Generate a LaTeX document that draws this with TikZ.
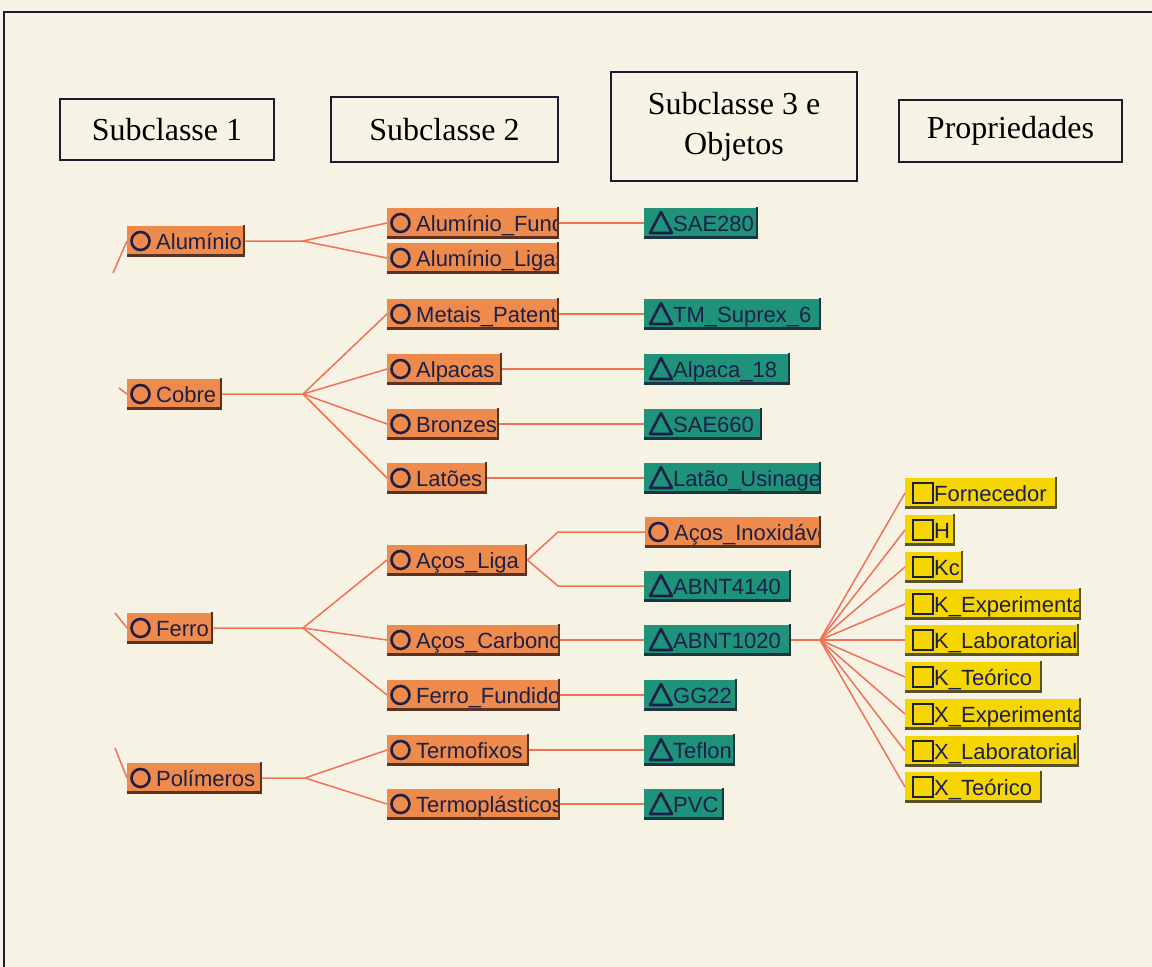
\documentclass[tikz,border=0pt]{standalone}
\usepackage{fontspec}
\setmainfont{Liberation Serif}
\newfontfamily\nodefont{Liberation Sans}
\definecolor{bg}{HTML}{F7F3E4}
\definecolor{orng}{HTML}{EE8A4C}
\definecolor{orngdark}{HTML}{5A3222}
\definecolor{tl}{HTML}{1F937A}
\definecolor{tldark}{HTML}{1A3440}
\definecolor{yel}{HTML}{F5D600}
\definecolor{yeldark}{HTML}{5A5224}
\definecolor{conn}{HTML}{F07058}
\definecolor{ink}{HTML}{1C2048}
\definecolor{frame}{HTML}{1A1A30}
\tikzset{
  box/.style={rectangle, inner sep=0pt, minimum height=31pt},
  lbl/.style={inner sep=0pt, font=\nodefont\fontsize{22}{24}\selectfont, text=ink},
  sym/.style={draw=ink, line width=2.6pt},
  link/.style={draw=conn, line width=1.5pt},
  head/.style={draw=frame, line width=2pt, font=\fontsize{32}{40}\selectfont, align=center, inner sep=0pt},
}
\newcommand\symcirc[1]{\draw[sym] ([xshift=13.5pt]#1.west) circle (9pt);}
\newcommand\symtri[1]{\draw[sym, line join=round] ([xshift=6pt,yshift=-10pt]#1.west) -- ([xshift=28pt,yshift=-10pt]#1.west) -- ([xshift=17pt,yshift=11pt]#1.west) -- cycle;}
\newcommand\symsq[1]{\draw[sym] ([xshift=8pt,yshift=-10pt]#1.west) rectangle ([xshift=28pt,yshift=10pt]#1.west);}
\newcommand\obj[7]{%
  \node[box, fill=#5, minimum width=#4pt, anchor=west] (#1) at (#2,#3) {};
  \draw[#5dark, line width=2.5pt] ([xshift=-1.25pt]#1.north east) -- ([xshift=-1.25pt,yshift=1.25pt]#1.south east) -- ([yshift=1.25pt]#1.south west);
  \csname sym#6\endcsname{#1}%
  \begin{scope}
    \clip (#1.south west) rectangle ([xshift=-2.5pt]#1.north east);
    \node[lbl, anchor=base west] (#1t) at ([xshift=29pt,yshift=-8pt]#1.west) {#7};
  \end{scope}
}
\begin{document}
\begin{tikzpicture}[x=1pt,y=-1pt]
\useasboundingbox (0,0) rectangle (1152,967);
\fill[bg] (0,0) rectangle (1152,967);
\draw[frame, line width=2pt] (4,967) -- (4,12) -- (1152,12);
% headers
\node[head, minimum width=214pt, minimum height=61pt] (h1) at (167,129.5) {Subclasse 1};
\node[head, minimum width=227pt, minimum height=65pt] (h2) at (444.5,129.5) {Subclasse 2};
\node[head, minimum width=246pt, minimum height=109pt] (h3) at (734,126.5) {Subclasse 3 e\\Objetos};
\node[head, minimum width=223pt, minimum height=62pt] (h4) at (1010.5,131) {Propriedades};
% column 1
\obj{Al}{127}{241}{118}{orng}{circ}{Alumínio}
\obj{Co}{127}{394}{95}{orng}{circ}{Cobre}
\obj{Fe}{127}{628}{86}{orng}{circ}{Ferro}
\obj{Po}{127}{778}{135}{orng}{circ}{Polímeros}
% column 2
\obj{AlF}{387}{223}{172}{orng}{circ}{Alumínio\_Fundido}
\obj{AlL}{387}{258}{172}{orng}{circ}{Alumínio\_Ligas}
\obj{MeP}{387}{314}{172}{orng}{circ}{Metais\_Patentes}
\obj{Alp}{387}{369}{115}{orng}{circ}{Alpacas}
\obj{Bro}{387}{424}{112}{orng}{circ}{Bronzes}
\obj{Lat}{387}{478}{100}{orng}{circ}{Latões}
\obj{AcL}{387}{560}{140}{orng}{circ}{Aços\_Liga}
\obj{AcC}{387}{640}{173}{orng}{circ}{Aços\_Carbono}
\obj{FeF}{387}{695}{173}{orng}{circ}{Ferro\_Fundido}
\obj{Tf}{387}{750}{142}{orng}{circ}{Termofixos}
\obj{Tp}{387}{804}{173}{orng}{circ}{Termoplásticos}
% column 3
\obj{S280}{644}{223}{114}{tl}{tri}{SAE280}
\obj{TMS}{644}{314}{177}{tl}{tri}{TM\_Suprex\_6}
\obj{A18}{644}{369}{146}{tl}{tri}{Alpaca\_18}
\obj{S660}{644}{424}{118}{tl}{tri}{SAE660}
\obj{LU}{644}{478}{177}{tl}{tri}{Latão\_Usinagem}
\obj{AIx}{645}{532}{176}{orng}{circ}{Aços\_Inoxidáveis}
\obj{A41}{644}{586}{147}{tl}{tri}{ABNT4140}
\obj{A10}{644}{640}{147}{tl}{tri}{ABNT1020}
\obj{GG}{644}{695}{93}{tl}{tri}{GG22}
\obj{Tef}{644}{750}{91}{tl}{tri}{Teflon}
\obj{PVC}{644}{804}{80}{tl}{tri}{PVC}
% column 4
\obj{P1}{905}{493}{152}{yel}{sq}{Fornecedor}
\obj{P2}{905}{530}{50}{yel}{sq}{H}
\obj{P3}{905}{567}{58}{yel}{sq}{Kc}
\obj{P4}{905}{604}{176}{yel}{sq}{K\_Experimental}
\obj{P5}{905}{640}{174}{yel}{sq}{K\_Laboratorial}
\obj{P6}{905}{677}{137}{yel}{sq}{K\_Teórico}
\obj{P7}{905}{714}{176}{yel}{sq}{X\_Experimental}
\obj{P8}{905}{751}{174}{yel}{sq}{X\_Laboratorial}
\obj{P9}{905}{787}{137}{yel}{sq}{X\_Teórico}
% stubs on the left
\coordinate (tAl) at (113,273);
\coordinate (tCo) at (119,388);
\coordinate (tFe) at (115,613);
\coordinate (tPo) at (115,748);
\draw[link] (tAl) -- (Al.west);
\draw[link] (tCo) -- (Co.west);
\draw[link] (tFe) -- (Fe.west);
\draw[link] (tPo) -- (Po.west);
% branches col1 -> col2
\coordinate (bAl) at (303,241);
\coordinate (bCo) at (303,394);
\coordinate (bFe) at (303,628);
\coordinate (bPo) at (305,778);
\draw[link] (Al.east) -- (bAl) -- (AlF.west);
\draw[link] (bAl) -- (AlL.west);
\draw[link] (Co.east) -- (bCo) -- (MeP.west);
\draw[link] (bCo) -- (Alp.west);
\draw[link] (bCo) -- (Bro.west);
\draw[link] (bCo) -- (Lat.west);
\draw[link] (Fe.east) -- (bFe) -- (AcL.west);
\draw[link] (bFe) -- (AcC.west);
\draw[link] (bFe) -- (FeF.west);
\draw[link] (Po.east) -- (bPo) -- (Tf.west);
\draw[link] (bPo) -- (Tp.west);
% col2 -> col3
\draw[link] (AlF.east) -- (S280.west);
\draw[link] (MeP.east) -- (TMS.west);
\draw[link] (Alp.east) -- (A18.west);
\draw[link] (Bro.east) -- (S660.west);
\draw[link] (Lat.east) -- (LU.west);
\coordinate (bAcU) at (558,532);
\coordinate (bAcD) at (558,586);
\draw[link] (AcL.east) -- (bAcU) -- (AIx.west);
\draw[link] (AcL.east) -- (bAcD) -- (A41.west);
\draw[link] (AcC.east) -- (A10.west);
\draw[link] (FeF.east) -- (GG.west);
\draw[link] (Tf.east) -- (Tef.west);
\draw[link] (Tp.east) -- (PVC.west);
% col3 -> properties
\coordinate (bA10) at (820,640);
\draw[link] (A10.east) -- (bA10);
\foreach \p in {P1,P2,P3,P4,P5,P6,P7,P8,P9} \draw[link] (bA10) -- (\p.west);
\end{tikzpicture}
\end{document}
